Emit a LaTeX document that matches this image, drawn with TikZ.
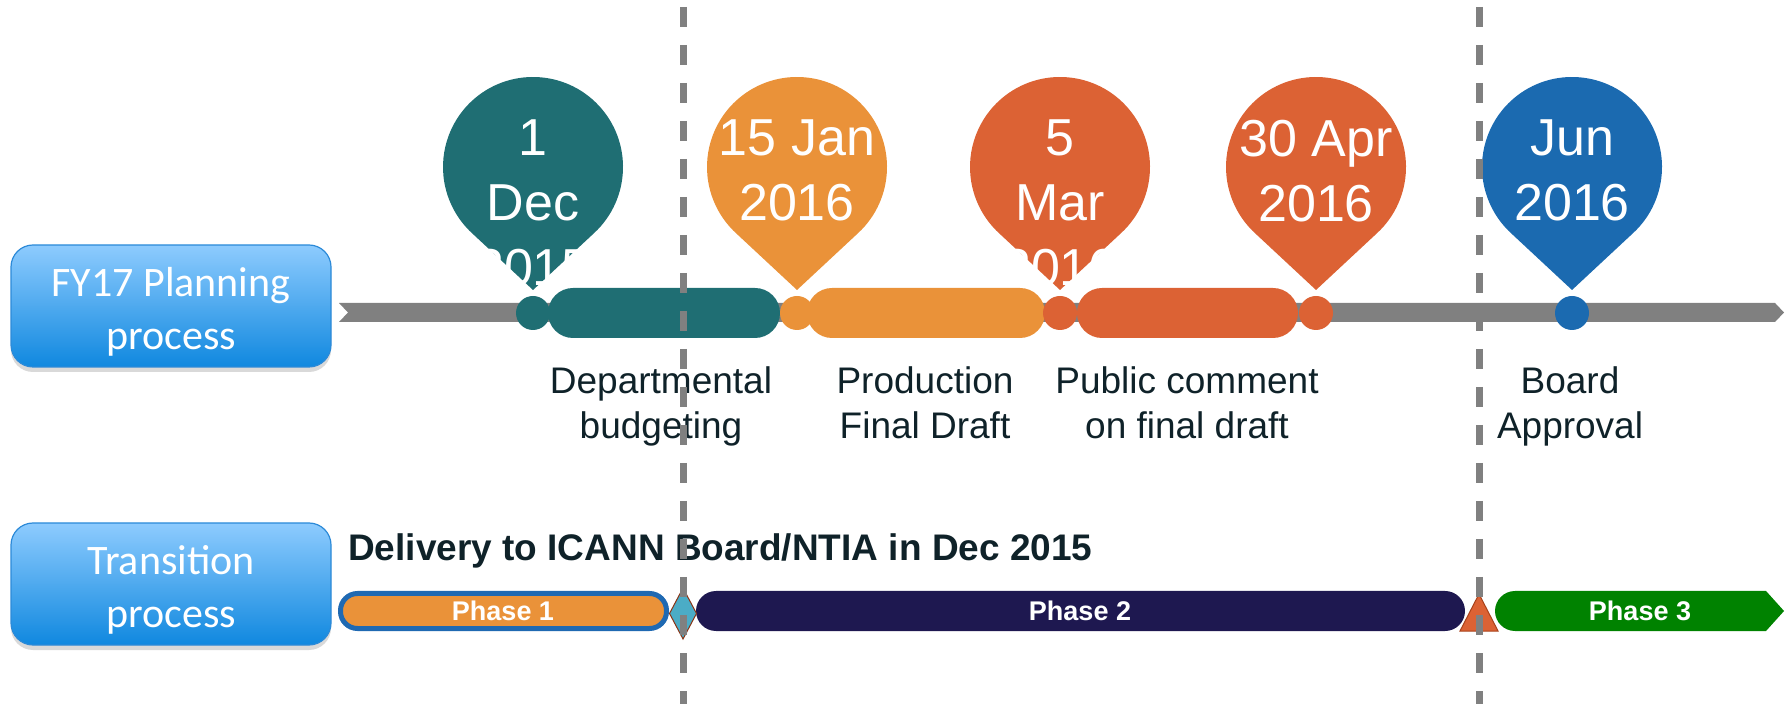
\documentclass[tikz,border=0pt]{standalone}
\usepackage{fontspec}
\setmainfont{Liberation Sans}
\newfontfamily\boxfont{Carlito}
\usetikzlibrary{shadows}

\definecolor{pinteal}{HTML}{1F6E73}
\definecolor{pinorange}{HTML}{EA9239}
\definecolor{pinred}{HTML}{DC6234}
\definecolor{pinblue}{HTML}{1B6AB0}
\definecolor{lanegrey}{HTML}{808080}
\definecolor{phasenavy}{HTML}{1E1850}
\definecolor{phasegreen}{HTML}{008200}
\definecolor{phaseedge}{HTML}{1F69B2}
\definecolor{gatecyan}{HTML}{4BACC6}
\definecolor{gateedge}{HTML}{8B3314}
\definecolor{gateedgetwo}{HTML}{A8421B}
\definecolor{labeltext}{HTML}{0F2229}
\definecolor{boxtop}{HTML}{8DCBFE}
\definecolor{boxbottom}{HTML}{1088DF}
\definecolor{boxline}{HTML}{2C8AD8}

\tikzset{
    procbox/.style={rounded corners=22pt, draw=boxline, line width=1.2pt,
        top color=boxtop, bottom color=boxbottom,
        minimum width=320pt, minimum height=122pt, align=center, text=white,
        font=\boxfont\fontsize{42}{53}\selectfont,
        drop shadow={shadow xshift=0pt, shadow yshift=-5pt, opacity=0.3}},
    pintext/.style={align=center, text=white, inner sep=0pt,
        font=\fontsize{52}{65}\selectfont},
    steplabel/.style={align=center, text=labeltext, inner sep=0pt,
        font=\fontsize{37}{45}\selectfont},
    phasetext/.style={text=white, inner sep=0pt,
        font=\bfseries\fontsize{27}{30}\selectfont},
    cutline/.style={draw=lanegrey, line width=7pt, dash pattern=on 20pt off 18pt},
}

\begin{document}
\begin{tikzpicture}[x=1pt, y=1pt]
    \useasboundingbox (0,0) rectangle (1790,704);

    \node[procbox] (fyBox) at (171,398) {\rule{0pt}{40pt}FY17 Planning\\process};
    \node[procbox] (transBox) at (171,120) {\rule{0pt}{40pt}Transition\\process};

    \fill[lanegrey] (339,382) -- (1775,382) -- (1784,391.5) -- (1775,401)
        -- (339,401) -- (348,391.5) -- cycle;

    \fill[pinteal, rounded corners=25pt] (548,366) rectangle (780,416);
    \fill[pinorange, rounded corners=25pt] (807,366) rectangle (1045,416);
    \fill[pinred, rounded corners=25pt] (1077,366) rectangle (1298,416);

    \foreach \px/\pc/\pn/\pt in {533/pinteal/pinDec/{1\\Dec\\2015},
        797/pinorange/pinJan/{15 Jan\\2016},
        1060/pinred/pinMar/{5\\Mar\\2016},
        1316/pinred/pinApr/{30 Apr\\2016},
        1572/pinblue/pinJun/{Jun\\2016}} {
        \fill[\pc] (\px,414) -- ([shift={(-47:90)}]\px,537)
            arc[start angle=-47, end angle=227, radius=90] -- cycle;
        \fill[\pc] (\px,391) circle[radius=17];
        \node[pintext, anchor=north] (\pn) at (\px,584) {\pt};
    }

    \node[steplabel, anchor=north] (budgetLbl) at (661,338) {Departmental\\budgeting};
    \node[steplabel, anchor=north] (draftLbl) at (925,338) {Production\\Final Draft};
    \node[steplabel, anchor=north] (commentLbl) at (1187,338) {Public comment\\on final draft};
    \node[steplabel, anchor=north] (approvalLbl) at (1570,338) {Board\\Approval};

    \node[anchor=base west, inner sep=0pt, text=labeltext,
        font=\bfseries\fontsize{37}{40}\selectfont] (deliveryLbl) at (348,143)
        {Delivery to ICANN Board/NTIA in Dec 2015};

    \draw[phaseedge, fill=pinorange, line width=5pt, rounded corners=17pt]
        (340.5,75.5) rectangle (666.5,110.5);
    \fill[phasenavy, rounded corners=20pt] (696,73) rectangle (1465,113);
    \fill[phasegreen] (1766,113) -- (1784,93) -- (1766,73) -- (1515,73)
        arc[start angle=270, end angle=90, radius=20] -- cycle;
    \draw[gateedge, fill=gatecyan, line width=1pt]
        (683,116) -- (696.5,90.5) -- (683,65) -- (669.5,90.5) -- cycle;
    \draw[gateedgetwo, fill=pinred, line width=1pt]
        (1479,110) -- (1498,73) -- (1460,73) -- cycle;

    \node[phasetext] (phaseOne) at (503,93) {Phase 1};
    \node[phasetext] (phaseTwo) at (1080,93) {Phase 2};
    \node[phasetext] (phaseThree) at (1640,93) {Phase 3};

    \draw[cutline] (683,697) -- (683,0);
    \draw[cutline] (1479,697) -- (1479,0);
\end{tikzpicture}
\end{document}
